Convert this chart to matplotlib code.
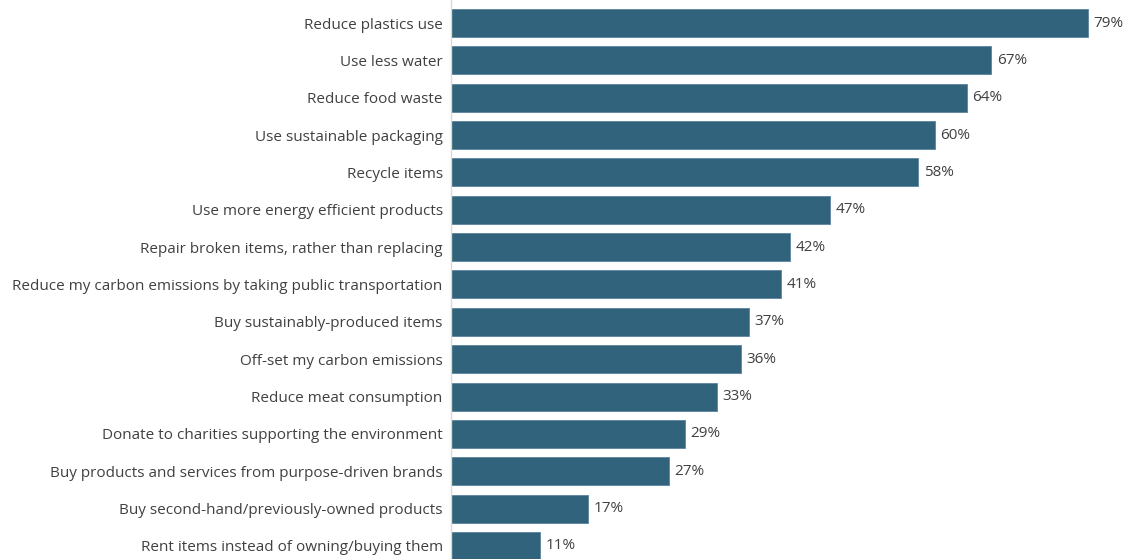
import matplotlib
matplotlib.use("Agg")
import matplotlib.pyplot as plt

categories = [
    "Reduce plastics use",
    "Use less water",
    "Reduce food waste",
    "Use sustainable packaging",
    "Recycle items",
    "Use more energy efficient products",
    "Repair broken items, rather than replacing",
    "Reduce my carbon emissions by taking public transportation",
    "Buy sustainably-produced items",
    "Off-set my carbon emissions",
    "Reduce meat consumption",
    "Donate to charities supporting the environment",
    "Buy products and services from purpose-driven brands",
    "Buy second-hand/previously-owned products",
    "Rent items instead of owning/buying them",
]
values = [79, 67, 64, 60, 58, 47, 42, 41, 37, 36, 33, 29, 27, 17, 11]

BAR_COLOR = "#31637d"
TEXT_COLOR = "#404040"

plt.rcParams["font.family"] = ["Open Sans", "DejaVu Sans"]

fig = plt.figure(figsize=(11.28, 5.59), dpi=100)
ax = fig.add_axes([451 / 1128, 0, 677 / 1128, 1])

pos = list(range(len(values)))
ax.barh(pos, values, height=0.75, color=BAR_COLOR, edgecolor="#5a84a0", linewidth=0.6)

for p, v in zip(pos, values):
    ax.text(v + 0.7, p, f"{v}%", va="center", ha="left", fontsize=11, color=TEXT_COLOR)

ax.set_xlim(0, 84)
ax.set_ylim(14.35, -0.616)
ax.set_yticks(pos)
ax.set_yticklabels(categories, fontsize=11, color=TEXT_COLOR)
ax.tick_params(axis="y", length=0, pad=6)
ax.set_xticks([])

for s in ["top", "right", "bottom"]:
    ax.spines[s].set_visible(False)
ax.spines["left"].set_color("#d9d9d9")
ax.spines["left"].set_linewidth(1)

fig.savefig("out.png", dpi=100)
